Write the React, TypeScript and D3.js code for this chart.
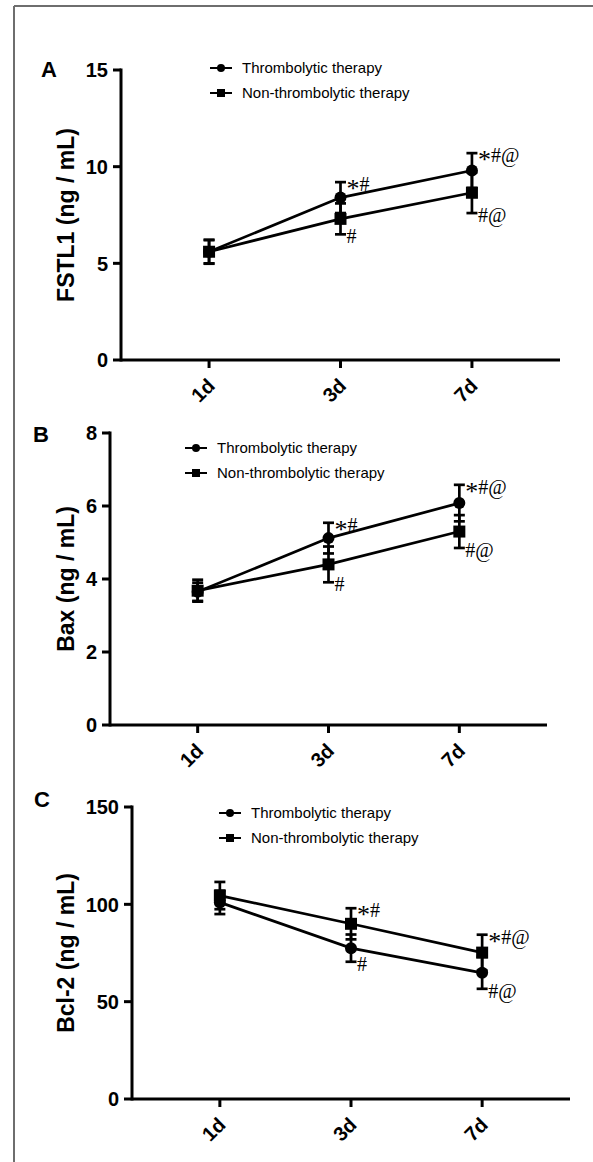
import React, { useRef, useEffect } from "react";
import { select, scaleLinear, line } from "d3";

// x categories
const days = ["1d", "3d", "7d"];
const seriesNames = ["Thrombolytic therapy", "Non-thrombolytic therapy"];

// panel A - FSTL1
const fstl1Thrombo = [5.6, 8.4, 9.8];
const fstl1ThromboErr = [0.62, 0.8, 0.9];
const fstl1Non = [5.6, 7.3, 8.65];
const fstl1NonErr = [0.6, 0.8, 1.05];
const fstl1ThromboMarks = ["", "*#", "*#@"];
const fstl1NonMarks = ["", "#", "#@"];
const fstl1Ticks = [0, 5, 10, 15];

// panel B - Bax
const baxThrombo = [3.65, 5.12, 6.08];
const baxThromboErr = [0.25, 0.42, 0.5];
const baxNon = [3.68, 4.4, 5.3];
const baxNonErr = [0.3, 0.49, 0.45];
const baxThromboMarks = ["", "*#", "*#@"];
const baxNonMarks = ["", "#", "#@"];
const baxTicks = [0, 2, 4, 6, 8];

// panel C - Bcl-2
const bcl2Thrombo = [101, 77.5, 64.8];
const bcl2ThromboErr = [6, 7, 8.2];
const bcl2Non = [104.5, 90, 75.2];
const bcl2NonErr = [7, 8, 9.2];
const bcl2ThromboMarks = ["", "#", "#@"];
const bcl2NonMarks = ["", "*#", "*#@"];
const bcl2Ticks = [0, 50, 100, 150];

const panels = [
  {
    letter: "A", title: "FSTL1 (ng / mL)", ticks: fstl1Ticks,
    left: 121, right: 560, top: 70, bottom: 360,
    letterX: 41, letterY: 77, legendX: 210, legendY: 68,
    series: [
      { vals: fstl1Thrombo, err: fstl1ThromboErr, marks: fstl1ThromboMarks, side: "top", shape: "circle" },
      { vals: fstl1Non, err: fstl1NonErr, marks: fstl1NonMarks, side: "bottom", shape: "square" },
    ],
  },
  {
    letter: "B", title: "Bax (ng / mL)", ticks: baxTicks,
    left: 110, right: 547, top: 433, bottom: 725,
    letterX: 33, letterY: 442, legendX: 185, legendY: 448,
    series: [
      { vals: baxThrombo, err: baxThromboErr, marks: baxThromboMarks, side: "top", shape: "circle" },
      { vals: baxNon, err: baxNonErr, marks: baxNonMarks, side: "bottom", shape: "square" },
    ],
  },
  {
    letter: "C", title: "Bcl-2 (ng / mL)", ticks: bcl2Ticks,
    left: 132, right: 570, top: 807, bottom: 1099,
    letterX: 34, letterY: 807, legendX: 219, legendY: 813,
    series: [
      { vals: bcl2Thrombo, err: bcl2ThromboErr, marks: bcl2ThromboMarks, side: "bottom", shape: "circle" },
      { vals: bcl2Non, err: bcl2NonErr, marks: bcl2NonMarks, side: "top", shape: "square" },
    ],
  },
];

const SANS = "'Liberation Sans', Arial, sans-serif";
const SERIF = "'Liberation Serif', 'Times New Roman', serif";

function drawMarker(g: any, shape: string, x: number, y: number, size: number) {
  if (shape === "circle") {
    g.append("circle").attr("cx", x).attr("cy", y).attr("r", size / 2).attr("fill", "#000");
  } else {
    g.append("rect")
      .attr("x", x - size / 2).attr("y", y - size / 2)
      .attr("width", size).attr("height", size).attr("fill", "#000");
  }
}

function App() {
  const svgRef = useRef<SVGSVGElement>(null);

  useEffect(() => {
    const svg = select(svgRef.current);
    svg.selectAll("*").remove();

    // frame (left + top edges only)
    svg.append("line").attr("x1", 14).attr("y1", 6).attr("x2", 14).attr("y2", 1162)
      .attr("stroke", "#6e6e6e").attr("stroke-width", 2);
    svg.append("line").attr("x1", 14).attr("y1", 6).attr("x2", 593).attr("y2", 6)
      .attr("stroke", "#6e6e6e").attr("stroke-width", 2);

    panels.forEach((p) => {
      const g = svg.append("g");
      const yMax = p.ticks[p.ticks.length - 1];
      const xScale = scaleLinear().domain([-0.67, 2.67]).range([p.left, p.right]);
      const yScale = scaleLinear().domain([0, yMax]).range([p.bottom, p.top]);

      // axes
      g.append("line").attr("x1", p.left).attr("x2", p.left)
        .attr("y1", yScale(yMax)).attr("y2", yScale(0))
        .attr("stroke", "#000").attr("stroke-width", 3).attr("stroke-linecap", "square");
      g.append("line").attr("x1", p.left).attr("x2", p.right)
        .attr("y1", yScale(0)).attr("y2", yScale(0))
        .attr("stroke", "#000").attr("stroke-width", 3);

      p.ticks.forEach((t) => {
        g.append("line").attr("x1", p.left - 8).attr("x2", p.left)
          .attr("y1", yScale(t)).attr("y2", yScale(t))
          .attr("stroke", "#000").attr("stroke-width", 3);
        g.append("text").attr("x", p.left - 13).attr("y", yScale(t)).attr("dy", "0.36em")
          .attr("text-anchor", "end").attr("font-family", SANS).attr("font-weight", "bold")
          .attr("font-size", 20).text(String(t));
      });

      days.forEach((d, i) => {
        const x = xScale(i);
        g.append("line").attr("x1", x).attr("x2", x)
          .attr("y1", yScale(0)).attr("y2", yScale(0) + 8)
          .attr("stroke", "#000").attr("stroke-width", 3);
        g.append("text")
          .attr("transform", `translate(${x + 7},${yScale(0) + 27}) rotate(-45)`)
          .attr("text-anchor", "end").attr("font-family", SANS).attr("font-weight", "bold")
          .attr("font-size", 20).text(d);
      });

      // y title
      g.append("text")
        .attr("transform", `translate(66,${(p.top + p.bottom) / 2}) rotate(-90)`)
        .attr("text-anchor", "middle").attr("dy", "0.36em")
        .attr("font-family", SANS).attr("font-weight", "bold").attr("font-size", 23)
        .text(p.title);

      // panel letter
      g.append("text").attr("x", p.letterX).attr("y", p.letterY)
        .attr("font-family", SANS).attr("font-weight", "bold").attr("font-size", 22)
        .text(p.letter);

      // legend
      p.series.forEach((s, k) => {
        const ly = p.legendY + k * 25;
        g.append("line").attr("x1", p.legendX).attr("x2", p.legendX + 22)
          .attr("y1", ly).attr("y2", ly).attr("stroke", "#000").attr("stroke-width", 2);
        drawMarker(g, s.shape, p.legendX + 11, ly, 8);
        g.append("text").attr("x", p.legendX + 32).attr("y", ly).attr("dy", "0.36em")
          .attr("font-family", SANS).attr("font-size", 15).text(seriesNames[k]);
      });

      const lineGen = line<number>()
        .x((_, i) => xScale(i))
        .y((v) => yScale(v));

      // connecting lines
      p.series.forEach((s) => {
        g.append("path").attr("d", lineGen(s.vals)).attr("fill", "none")
          .attr("stroke", "#000").attr("stroke-width", 2.7);
      });

      // error bars
      p.series.forEach((s) => {
        s.vals.forEach((v, i) => {
          const x = xScale(i);
          const y1 = yScale(v + s.err[i]);
          const y2 = yScale(v - s.err[i]);
          g.append("line").attr("x1", x).attr("x2", x).attr("y1", y1).attr("y2", y2)
            .attr("stroke", "#000").attr("stroke-width", 2.7);
          [y1, y2].forEach((yy) => {
            g.append("line").attr("x1", x - 5.5).attr("x2", x + 5.5).attr("y1", yy).attr("y2", yy)
              .attr("stroke", "#000").attr("stroke-width", 2.7);
          });
        });
      });

      // markers
      p.series.forEach((s) => {
        s.vals.forEach((v, i) => {
          drawMarker(g, s.shape, xScale(i), yScale(v), 12);
        });
      });

      // significance marks (asterisk drawn larger and dropped to sit mid-height)
      p.series.forEach((s) => {
        s.vals.forEach((v, i) => {
          if (!s.marks[i]) return;
          const yy = s.side === "top" ? yScale(v + s.err[i]) : yScale(v - s.err[i]);
          const txt = g.append("text").attr("x", xScale(i) + 6).attr("y", yy + 9)
            .attr("font-family", SERIF).attr("font-size", 20);
          const chars = s.marks[i].split("");
          chars.forEach((ch, j) => {
            let dy: number | null = null;
            if (ch === "*") dy = 6;
            else if (j > 0 && chars[j - 1] === "*") dy = -6;
            txt.append("tspan")
              .attr("font-size", ch === "*" ? 26 : 20)
              .attr("dy", dy)
              .text(ch);
          });
        });
      });
    });
  }, []);

  return (
    <div style={{ position: "absolute", left: 0, top: 0 }}>
      <svg ref={svgRef} width={593} height={1162} style={{ display: "block", background: "#fff" }} />
    </div>
  );
}

export default App;
